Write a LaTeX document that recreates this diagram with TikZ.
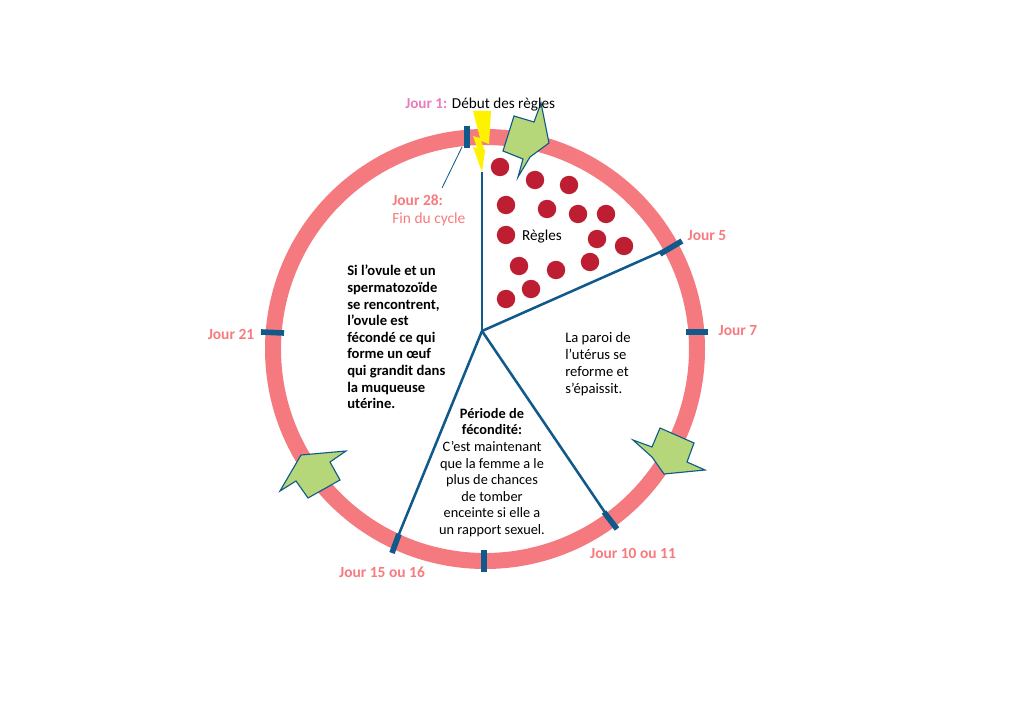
\documentclass[tikz,border=0pt]{standalone}
\usepackage{fontspec}
\setmainfont{Carlito}
\usepackage{xcolor}
\definecolor{ring}{RGB}{245,122,128}
\definecolor{spoke}{RGB}{15,90,138}
\definecolor{leaf}{RGB}{181,215,122}
\definecolor{blood}{RGB}{190,30,50}
\definecolor{bolt}{RGB}{255,242,0}
\definecolor{firstday}{RGB}{232,124,190}
\definecolor{daylabel}{RGB}{248,122,126}
\usetikzlibrary{positioning}

\begin{document}
\begin{tikzpicture}[
        x=0.025cm, y=-0.025cm,
        day/.style={font=\fontsize{11}{13}\selectfont\bfseries, text=daylabel, inner sep=0pt},
        body/.style={font=\fontsize{10.2}{11.8}\selectfont, align=center, inner sep=0pt},
        bodyleft/.style={font=\fontsize{10.4}{12}\selectfont, align=left, inner sep=0pt},
        dot/.style={circle, fill=blood, minimum size=0.46cm, inner sep=0pt},
        rel/.style={spoke, line width=1.8pt},
        tick/.style={spoke, line width=4pt},
        pointer/.style={draw=spoke, fill=leaf, line width=0.8pt, line join=miter}
    ]
        \useasboundingbox (0,0) rectangle (1019,721);

        \draw[ring, line width=0.4cm] (485,349) circle (212);

        \coordinate (hub) at (482,331);
        \coordinate (top) at (482,172);
        \coordinate (five) at (667,249);
        \coordinate (ten) at (606,514);
        \coordinate (fifteen) at (399,534);

        \fill[bolt] (473,111) -- (491,111) -- (489,144) -- (481,141) -- (485,151) -- (482,172) -- (473,147) -- (477,148) -- (473,136) -- (480,138) -- cycle;

        \draw[rel] (hub) -- (top);
        \draw[rel] (hub) -- (five);
        \draw[rel] (hub) -- (ten);
        \draw[rel] (hub) -- (fifteen);

        \draw[tick] (467,126) -- (467,148);
        \draw[tick] (660,254) -- (682,241);
        \draw[tick] (686,332) -- (708,332);
        \draw[tick] (604,512) -- (617,529);
        \draw[tick] (484,550) -- (484,572);
        \draw[tick] (399,534) -- (392,553);
        \draw[tick] (261,332) -- (284,333);

        \draw[pointer] (514,116) -- (534,122) -- (541,103) -- (549,143) -- (530,157) -- (518,177) -- (523,159) -- (503,151) -- cycle;
        \draw[pointer] (633,440) -- (652,447) -- (660,428) -- (694,443) -- (687,462) -- (705,470) -- (664,474) -- (652,457) -- cycle;
        \draw[pointer] (346,451) -- (301,455) -- (280,491) -- (296,481) -- (308,498) -- (340,480) -- (330,462) -- cycle;

        \node[dot] (d1) at (500,167) {};
        \node[dot] (d2) at (535,180) {};
        \node[dot] (d3) at (569,185) {};
        \node[dot] (d4) at (506,205) {};
        \node[dot] (d5) at (547,209) {};
        \node[dot] (d6) at (578,214) {};
        \node[dot] (d7) at (606,214) {};
        \node[dot] (d8) at (506,235) {};
        \node[dot] (d9) at (597,239) {};
        \node[dot] (d10) at (624,246) {};
        \node[dot] (d11) at (519,266) {};
        \node[dot] (d12) at (556,270) {};
        \node[dot] (d13) at (590,262) {};
        \node[dot] (d14) at (531,289) {};
        \node[dot] (d15) at (506,299) {};

        \node[body, font=\fontsize{10.8}{13}\selectfont, anchor=west] (day1) at (405,104.5) {\textbf{\textcolor{firstday}{Jour 1:}} Début des règles};
        \node[bodyleft, font=\fontsize{11}{12.2}\selectfont, text=daylabel, anchor=north west] (day28) at (392,195) {\textbf{Jour 28:}\\Fin du cycle};
        \coordinate (day28end) at (442,188);
        \coordinate (tick28) at (462,147);
        \draw[spoke, line width=0.6pt] (tick28) -- (day28end);
        \node[day] (day5) at (707,236) {Jour 5};
        \node[day] (day7) at (738,331) {Jour 7};
        \node[day] (day10) at (633,553) {Jour 10 ou 11};
        \node[day] (day15) at (382,572) {Jour 15 ou 16};
        \node[day] (day21) at (231,334) {Jour 21};

        \node[body, font=\fontsize{10.8}{13}\selectfont] (regles) at (542,236.5) {Règles};
        \node[bodyleft, anchor=north west] (paroi) at (565,332) {La paroi de\\l’utérus se\\reforme et\\s’épaissit.};
        \node[bodyleft, font=\fontsize{10.4}{11.8}\selectfont\bfseries, anchor=north west] (ovule) at (347,265) {Si l’ovule et un\\spermatozoïde\\se rencontrent,\\l’ovule est\\fécondé ce qui\\forme un œuf\\qui grandit dans\\la muqueuse\\utérine.};
        \node[body, anchor=north] (fecond) at (492,408) {\textbf{Période de}\\\textbf{fécondité:}\\C’est maintenant\\que la femme a le\\plus de chances\\de tomber\\enceinte si elle a\\un rapport sexuel.};
    \end{tikzpicture}
\end{document}
